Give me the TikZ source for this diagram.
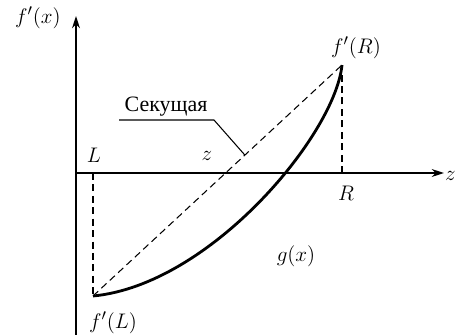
\documentclass[tikz,border=0pt]{standalone}
\usepackage{fontspec}
\usetikzlibrary{arrows.meta}
\newfontfamily\cyrfont{Liberation Serif}
\begin{document}
\begin{tikzpicture}[>={Stealth[length=7pt,width=4.5pt]}, x=0.02cm, y=-0.02cm, font=\fontsize{12.5}{15}\selectfont]
\useasboundingbox (0,0) rectangle (457,335);
\coordinate (o) at (76,173);
\coordinate (ybot) at (76,335);
\coordinate (ytop) at (76,16);
\coordinate (xend) at (444,173);
\coordinate (pl) at (93,296);
\coordinate (pr) at (342,65);
\coordinate (lx) at (93,173);
\coordinate (rx) at (342,173);
\draw[->, line width=0.8pt] (ybot) -- (ytop);
\draw[->, line width=0.8pt] (o) -- (xend);
\node (fx) at (38,18) {$f'(x)$};
\node[anchor=east, inner sep=0.5pt] (zaxis) at (457,176) {$z$};
\node (l) at (94,155) {$L$};
\node (z) at (207,156) {$z$};
\node (r) at (346,193) {$R$};
\node (g) at (296,256) {$g(x)$};
\node (fl) at (113,323) {$f'(L)$};
\node (fr) at (356,48) {$f'(R)$};
\draw[dash pattern=on 4pt off 2.5pt, line width=0.6pt] (lx) -- (pl);
\draw[dash pattern=on 4pt off 2.5pt, line width=0.6pt] (rx) -- (pr);
\draw[dash pattern=on 4pt off 2.5pt, line width=0.6pt] (pl) -- coordinate[pos=0.61] (sec) (pr);
\draw[line width=1.6pt] (pl) .. controls (210,285) and (335,135) .. (pr);
\node[anchor=south, inner sep=2pt, font=\cyrfont\fontsize{12.5}{15}\selectfont] (seclabel) at (166,120) {Секущая};
\draw[line width=0.6pt] (119,120) -- (214,120) -- (sec);
\end{tikzpicture}
\end{document}
